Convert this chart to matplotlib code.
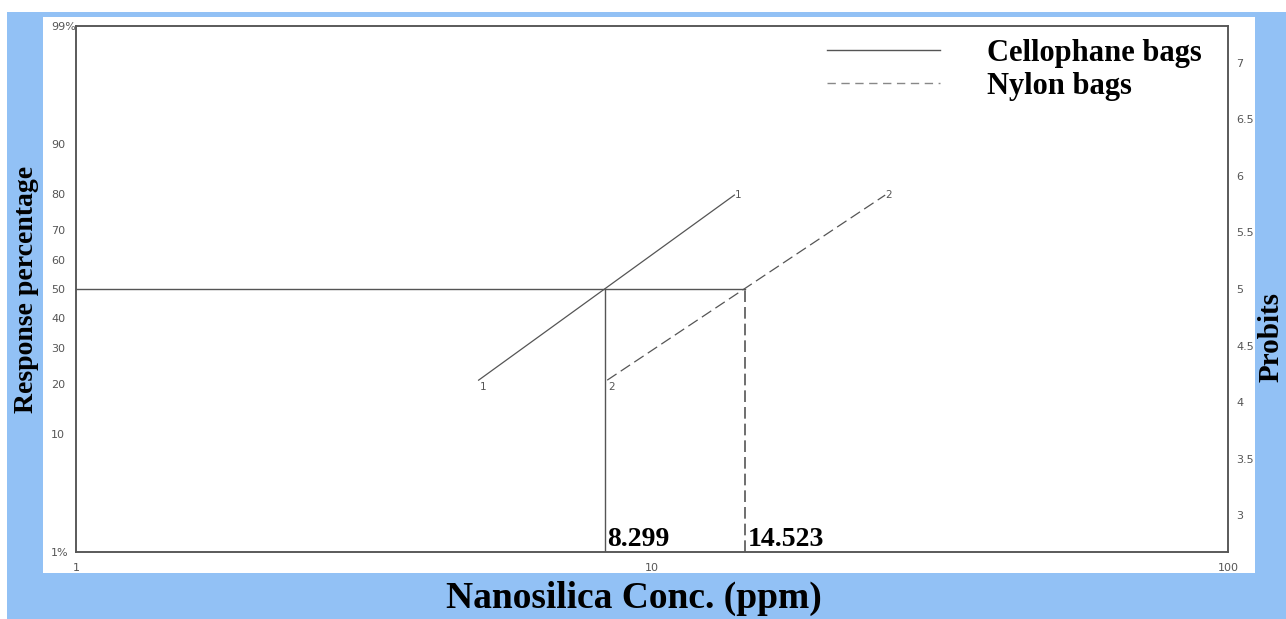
"""Probit plot of nanosilica response, cellophane vs nylon bags"""

from statistics import NormalDist

import matplotlib
matplotlib.use("Agg")
import matplotlib.pyplot as plt
import numpy as np
from matplotlib.lines import Line2D
from matplotlib.patches import Rectangle
from matplotlib.ticker import FixedLocator, NullLocator

# data
cello_conc = [5.0, 13.9]
cello_resp = [21.0, 79.7]
nylon_conc = [8.36, 25.4]
nylon_resp = [21.0, 79.7]
lc50_vals = [8.299, 14.523]
lc50_labels = ["8.299", "14.523"]
pct_ticks = [1, 10, 20, 30, 40, 50, 60, 70, 80, 90, 99]
pct_labels = ["1%", "10", "20", "30", "40", "50", "60", "70", "80", "90", "99%"]
probit_ticks = [3, 3.5, 4, 4.5, 5, 5.5, 6, 6.5, 7]
probit_labels = ["3", "3.5", "4", "4.5", "5", "5.5", "6", "6.5", "7"]
x_ticks = [1, 10, 100]

# probit scale helpers
_nd = NormalDist()
_ppf = np.vectorize(_nd.inv_cdf, otypes=[float])
_cdf = np.vectorize(_nd.cdf, otypes=[float])

def pct_to_probit(p):
  p = np.clip(np.asarray(p, dtype=float), 1e-9, 100 - 1e-9) / 100.0
  return _ppf(p) + 5

def probit_to_pct(y):
  return _cdf(np.asarray(y, dtype=float) - 5) * 100.0

BLUE = "#92c1f5"
LINE = "#555555"
TXT = "#555555"
SERIF = {"family": "Liberation Serif", "weight": "bold"}

W, H = 1286, 619
fig = plt.figure(figsize=(W / 100, H / 100), dpi=100, facecolor="white")
fig.patches.append(Rectangle((7 / W, 0), 1, 1 - 12 / H, transform=fig.transFigure,
                             facecolor=BLUE, edgecolor="none", zorder=-3))
fig.patches.append(Rectangle((43 / W, 1 - 573 / H), (1255 - 43) / W, (573 - 17) / H,
                             transform=fig.transFigure, facecolor="white",
                             edgecolor="none", zorder=-2))

ax = fig.add_axes([76 / W, 1 - 552 / H, (1228 - 76) / W, (552 - 26) / H])
ax.set_zorder(1)
ax.set_xscale("log")
ax.set_yscale("function", functions=(pct_to_probit, probit_to_pct))
ax.set_xlim(1, 100)
ax.set_ylim(1, 99)

# fitted lines
ax.plot(cello_conc, cello_resp, color=LINE, lw=0.9)
ax.plot(nylon_conc, nylon_resp, color=LINE, lw=0.9, dashes=(9, 4))
for conc, resp, lab in [(cello_conc, cello_resp, "1"), (nylon_conc, nylon_resp, "2")]:
  ax.annotate(lab, xy=(conc[0], resp[0]), xytext=(1, -1), textcoords="offset points",
              ha="left", va="top", fontsize=7.5, color=TXT)
  ax.annotate(lab, xy=(conc[1], resp[1]), xytext=(0, 0), textcoords="offset points",
              ha="left", va="center", fontsize=7.5, color=TXT)

# LC50 guides
ax.plot([1, lc50_vals[1]], [50, 50], color=LINE, lw=1.0)
ax.plot([lc50_vals[0]] * 2, [1, 50], color=LINE, lw=1.0)
ax.plot([lc50_vals[1]] * 2, [1, 50], color=LINE, lw=1.2, dashes=(7, 3))
for v, lab in zip(lc50_vals, lc50_labels):
  ax.annotate(lab, xy=(v, 1), xytext=(1.5, 0), textcoords="offset points",
              ha="left", va="bottom", fontsize=20, color="black", **SERIF)

# ticks
ax.xaxis.set_major_locator(FixedLocator(x_ticks))
ax.xaxis.set_minor_locator(NullLocator())
ax.set_xticklabels([str(t) for t in x_ticks])
ax.yaxis.set_major_locator(FixedLocator(pct_ticks))
ax.yaxis.set_minor_locator(NullLocator())
ax.set_yticklabels(pct_labels)
ax.tick_params(axis="both", length=0, labelsize=8, labelcolor=TXT)
ax.tick_params(axis="x", pad=8)
ax.tick_params(axis="y", pad=18)
for lbl in ax.get_yticklabels():
  lbl.set_horizontalalignment("left")

ax2 = ax.twinx()
ax2.set_ylim(pct_to_probit(1), pct_to_probit(99))
ax2.yaxis.set_major_locator(FixedLocator(probit_ticks))
ax2.set_yticklabels(probit_labels)
ax2.tick_params(axis="y", length=0, labelsize=8, labelcolor=TXT, pad=6)

for a in (ax, ax2):
  for sp in a.spines.values():
    sp.set_color(LINE)
    sp.set_linewidth(1.1)

# legend
handles = [Line2D([], [], color=LINE, lw=1.0),
           Line2D([], [], color="#888888", lw=1.0, dashes=(6, 4))]
ax.legend(handles, ["Cellophane bags", "Nylon bags"], loc="upper left",
          bbox_to_anchor=((827 - 76) / 1152, (552 - 39) / 526), frameon=False,
          prop={"family": "Liberation Serif", "weight": "bold", "size": 22},
          handlelength=3.7, handletextpad=1.55, labelspacing=0.12,
          borderpad=0, borderaxespad=0)

# axis titles
fig.text(634 / W, 1 - 598 / H, "Nanosilica Conc. (ppm)", ha="center", va="center",
         fontsize=27, **SERIF)
fig.text(27 / W, 1 - 289 / H, "Response percentage", ha="center", va="center",
         rotation=90, fontsize=20, **SERIF)
fig.text(1271 / W, 1 - 337 / H, "Probits", ha="center", va="center",
         rotation=90, fontsize=21, **SERIF)

fig.savefig("out.png", dpi=100, facecolor=fig.get_facecolor())
